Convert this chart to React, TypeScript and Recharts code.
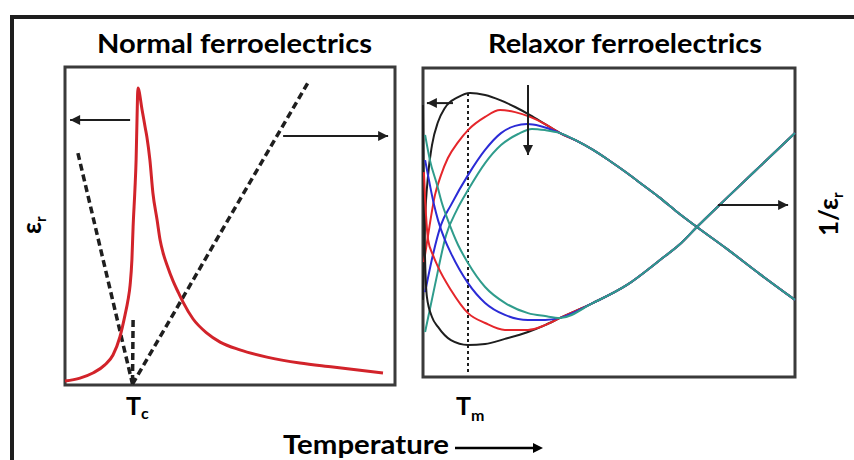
import React from "react";
import { LineChart, Line, XAxis, YAxis, ReferenceArea } from "recharts";

// ---- Normal ferroelectric panel (arbitrary units: t = temperature, v = value)
const normalEps = [
  { t: 0, v: 1.3 }, { t: 5, v: 2.3 }, { t: 9.3, v: 4 }, { t: 13.3, v: 6.7 },
  { t: 16, v: 10 }, { t: 18.3, v: 16 }, { t: 20, v: 23.3 }, { t: 21, v: 28.3 },
  { t: 21.7, v: 33.3 }, { t: 22.3, v: 41.7 }, { t: 22.7, v: 52.7 }, { t: 23.3, v: 65 },
  { t: 23.7, v: 75 }, { t: 24, v: 88.3 }, { t: 24.3, v: 99 }, { t: 25.7, v: 91.7 },
  { t: 26.7, v: 86 }, { t: 27.3, v: 82.7 }, { t: 28.3, v: 75 }, { t: 29.3, v: 64 },
  { t: 30.7, v: 55 }, { t: 31.7, v: 48.3 }, { t: 32.7, v: 44 }, { t: 34, v: 40 },
  { t: 36, v: 34.7 }, { t: 37.7, v: 31 }, { t: 39.3, v: 27.7 }, { t: 42.7, v: 22 },
  { t: 47.3, v: 17.3 }, { t: 51.7, v: 14.3 }, { t: 58.3, v: 11.7 }, { t: 67.3, v: 9.3 },
  { t: 78.3, v: 7.3 }, { t: 89.3, v: 6 }, { t: 106, v: 4 },
];
const invBelowTc = [{ t: 4.3, v: 77.3 }, { t: 22.5, v: 0.3 }];
const invAboveTc = [{ t: 22.5, v: 0.3 }, { t: 81.3, v: 101.3 }];
const tcSpike = [{ t: 22.7, v: 21.7 }, { t: 22.5, v: 0.3 }];
const normalArrowLeft = [{ t: 21.7, v: 88.3 }, { t: 1.7, v: 88.3, head: "left" }];
const normalArrowRight = [{ t: 72.7, v: 83 }, { t: 107.7, v: 83, head: "right" }];

// ---- Relaxor panel
const epsTail = [
  { t: 45.7, v: 81.3 }, { t: 51.3, v: 78.7 }, { t: 56.7, v: 75.7 }, { t: 62.3, v: 72 },
  { t: 68, v: 68 }, { t: 73.3, v: 64 }, { t: 79, v: 59.7 }, { t: 84.7, v: 55 },
  { t: 91.3, v: 50 }, { t: 101.3, v: 42.7 }, { t: 112.3, v: 34.3 }, { t: 124, v: 25.7 },
];
const invTail = [
  { t: 45.7, v: 19.7 }, { t: 56.7, v: 24.7 }, { t: 68, v: 30.7 }, { t: 79, v: 39 },
  { t: 85.7, v: 44.3 }, { t: 91.3, v: 50 }, { t: 101.3, v: 59.7 }, { t: 112.3, v: 70.2 },
  { t: 124, v: 81.3 },
];
const blackEps = [
  { t: 0, v: 25.7 }, { t: 0.7, v: 52.3 }, { t: 1.7, v: 67.3 }, { t: 3, v: 77.3 },
  { t: 5, v: 85 }, { t: 7.3, v: 89.7 }, { t: 11.7, v: 93.3 }, { t: 15.7, v: 94.7 },
  { t: 20.7, v: 94 }, { t: 25.7, v: 92.3 }, { t: 30.7, v: 90 }, { t: 35.7, v: 87.3 },
  { t: 40.7, v: 84.3 },
];
const redEps = [
  { t: 0.3, v: 38.3 }, { t: 1.7, v: 47.3 }, { t: 4, v: 60.7 }, { t: 6, v: 67.3 },
  { t: 8.3, v: 73 }, { t: 11.7, v: 78.3 }, { t: 15, v: 82.3 }, { t: 20.7, v: 86.7 },
  { t: 25.7, v: 89 }, { t: 30.7, v: 88.3 }, { t: 35.7, v: 86.7 }, { t: 40.7, v: 84.3 },
];
const blueEps = [
  { t: 0.7, v: 28.3 }, { t: 3.3, v: 40.7 }, { t: 6, v: 50.7 }, { t: 9.3, v: 57.3 },
  { t: 15, v: 67.3 }, { t: 20.7, v: 75.7 }, { t: 26, v: 81.3 }, { t: 30.7, v: 83.7 },
  { t: 34.7, v: 84.3 }, { t: 39, v: 83.7 },
];
const tealEps = [
  { t: 0.7, v: 15 }, { t: 4, v: 30.7 }, { t: 7.7, v: 47.3 }, { t: 11.3, v: 55.7 },
  { t: 15, v: 62.3 }, { t: 20.7, v: 71.3 }, { t: 26, v: 77.3 }, { t: 31.7, v: 81 },
  { t: 36.3, v: 82.7 }, { t: 40.7, v: 82.3 },
];
const blackInv = [
  { t: 0, v: 90.7 }, { t: 0.3, v: 59 }, { t: 0.7, v: 39 }, { t: 1.3, v: 26.7 },
  { t: 3, v: 20 }, { t: 5, v: 16.7 }, { t: 9.3, v: 12.3 }, { t: 15, v: 10.7 },
  { t: 20.7, v: 11 }, { t: 27.3, v: 12.7 }, { t: 35, v: 15 }, { t: 40.7, v: 17.3 },
];
const redInv = [
  { t: 0.3, v: 68.3 }, { t: 1, v: 54 }, { t: 1.7, v: 45.7 }, { t: 3.3, v: 40.7 },
  { t: 5, v: 36.7 }, { t: 9.3, v: 29 }, { t: 15, v: 21.3 }, { t: 20.7, v: 18 },
  { t: 27.3, v: 15.7 }, { t: 35, v: 15.7 }, { t: 40.7, v: 17.3 },
];
const blueInv = [
  { t: 0.7, v: 72.3 }, { t: 2.3, v: 64 }, { t: 3.7, v: 57.3 }, { t: 5, v: 52.3 },
  { t: 7.3, v: 45.7 }, { t: 9.3, v: 41.3 }, { t: 15, v: 31.3 }, { t: 20.7, v: 24.7 },
  { t: 27.3, v: 20.7 }, { t: 35, v: 19 }, { t: 40.7, v: 19 },
];
const tealInv = [
  { t: 0.7, v: 80.7 }, { t: 2.3, v: 72.3 }, { t: 4.7, v: 64 }, { t: 6.3, v: 58 },
  { t: 8.3, v: 52.3 }, { t: 11.7, v: 44 }, { t: 15, v: 38 }, { t: 20.7, v: 30 },
  { t: 27.3, v: 24.7 }, { t: 35, v: 21.3 }, { t: 40.7, v: 20.3 },
];
const tmLine = [{ t: 15, v: 94.7 }, { t: 15, v: 1.7 }];
const relaxorArrowLeft = [{ t: 10, v: 91.3 }, { t: 1.3, v: 91.3, head: "left" }];
const relaxorArrowDown = [{ t: 35, v: 97.3 }, { t: 35, v: 74, head: "down" }];
const relaxorArrowRight = [{ t: 98.3, v: 57.3 }, { t: 121.7, v: 57.3, head: "right" }];

const relaxorSeries = [
  { name: "black", color: "#1e1e1e", eps: blackEps, inv: blackInv },
  { name: "red", color: "#e5262b", eps: redEps, inv: redInv },
  { name: "blue", color: "#2b2bd6", eps: blueEps, inv: blueInv },
  { name: "teal", color: "#2f9c8c", eps: tealEps, inv: tealInv },
];

const FONT = "Lato, 'Open Sans', sans-serif";
const M = 6;

const ArrowHead = (props: any) => {
  const { cx, cy, payload, index } = props;
  if (!payload || !payload.head || cx == null) return <g key={`h-${index}`} />;
  const l = 10;
  const s = 5;
  let pts = "";
  if (payload.head === "right") pts = `${cx},${cy} ${cx - l},${cy - s} ${cx - l},${cy + s}`;
  if (payload.head === "left") pts = `${cx},${cy} ${cx + l},${cy - s} ${cx + l},${cy + s}`;
  if (payload.head === "down") pts = `${cx},${cy} ${cx - s},${cy - l} ${cx + s},${cy - l}`;
  return <polygon key={`h-${index}`} points={pts} fill="#1e1e1e" />;
};

const arrowLine = (id: string, data: any[]) => (
  <Line
    key={id}
    data={data}
    dataKey="v"
    type="linear"
    stroke="#1e1e1e"
    strokeWidth={2}
    dot={ArrowHead}
    activeDot={false}
    isAnimationActive={false}
  />
);

export default function App() {
  return (
    <div
      style={{
        position: "absolute",
        left: 0,
        top: 0,
        width: 854,
        height: 460,
        background: "#fff",
        overflow: "hidden",
        fontFamily: FONT,
      }}
    >
      <svg width={854} height={460} style={{ position: "absolute", left: 0, top: 0 }}>
        <line x1={12} y1={17} x2={854} y2={17} stroke="#1e1e1e" strokeWidth={4} />
        <line x1={12} y1={15} x2={12} y2={460} stroke="#1e1e1e" strokeWidth={4} />
        <g fontFamily={FONT} fontWeight={700} fill="#000">
          <text x={97} y={53} fontSize={26} textLength={275} lengthAdjust="spacingAndGlyphs">
            Normal ferroelectrics
          </text>
          <text x={488} y={53} fontSize={26} textLength={274} lengthAdjust="spacingAndGlyphs">
            Relaxor ferroelectrics
          </text>
          <text transform="translate(41,234) rotate(-90)" fontSize={26}>
            ε<tspan fontSize={15} dy={5}>r</tspan>
          </text>
          <text transform="translate(838,236) rotate(-90)" fontSize={26}>
            1/ε<tspan fontSize={15} dy={5}>r</tspan>
          </text>
          <text x={126} y={415} fontSize={25}>
            T<tspan fontSize={16} dy={4}>c</tspan>
          </text>
          <text x={456} y={415} fontSize={25}>
            T<tspan fontSize={16} dy={6}>m</tspan>
          </text>
          <text x={283} y={454} fontSize={26} textLength={166} lengthAdjust="spacingAndGlyphs">
            Temperature
          </text>
        </g>
        <line x1={455} y1={448} x2={534} y2={448} stroke="#000" strokeWidth={2.5} />
        <polygon points="543,448 533,443 533,453" fill="#000" />
      </svg>

      <div style={{ position: "absolute", left: 65 - M, top: 67 - M }}>
        <LineChart width={330 + 2 * M} height={318 + 2 * M} margin={{ top: M, right: M, bottom: M, left: M }}>
          <XAxis type="number" dataKey="t" domain={[0, 110]} hide allowDuplicatedCategory={false} />
          <YAxis type="number" domain={[0, 106]} hide />
          <ReferenceArea x1={0} x2={110} y1={0} y2={106} fill="none" stroke="#3a3a3a" strokeWidth={3} />
          <Line data={invBelowTc} dataKey="v" type="linear" stroke="#1e1e1e" strokeWidth={3.5} strokeDasharray="7 4" dot={false} activeDot={false} isAnimationActive={false} />
          <Line data={invAboveTc} dataKey="v" type="linear" stroke="#1e1e1e" strokeWidth={3.5} strokeDasharray="7 4" dot={false} activeDot={false} isAnimationActive={false} />
          <Line data={tcSpike} dataKey="v" type="linear" stroke="#1e1e1e" strokeWidth={3.5} strokeDasharray="7 4" dot={false} activeDot={false} isAnimationActive={false} />
          <Line data={normalEps} dataKey="v" type="monotone" stroke="#d2232a" strokeWidth={3} dot={false} activeDot={false} isAnimationActive={false} />
          {arrowLine("nl", normalArrowLeft)}
          {arrowLine("nr", normalArrowRight)}
        </LineChart>
      </div>

      <div style={{ position: "absolute", left: 423 - M, top: 68 - M }}>
        <LineChart width={372 + 2 * M} height={309 + 2 * M} margin={{ top: M, right: M, bottom: M, left: M }}>
          <XAxis type="number" dataKey="t" domain={[0, 124]} hide allowDuplicatedCategory={false} />
          <YAxis type="number" domain={[0, 103]} hide />
          <ReferenceArea x1={0} x2={124} y1={0} y2={103} fill="none" stroke="#3a3a3a" strokeWidth={3} />
          <Line data={tmLine} dataKey="v" type="linear" stroke="#1e1e1e" strokeWidth={2} strokeDasharray="3 3" dot={false} activeDot={false} isAnimationActive={false} />
          {relaxorSeries.map((s) => (
            <Line key={`e-${s.name}`} data={[...s.eps, ...epsTail]} dataKey="v" type="monotone" stroke={s.color} strokeWidth={2} dot={false} activeDot={false} isAnimationActive={false} />
          ))}
          {relaxorSeries.map((s) => (
            <Line key={`i-${s.name}`} data={[...s.inv, ...invTail]} dataKey="v" type="monotone" stroke={s.color} strokeWidth={2} dot={false} activeDot={false} isAnimationActive={false} />
          ))}
          {arrowLine("rl", relaxorArrowLeft)}
          {arrowLine("rd", relaxorArrowDown)}
          {arrowLine("rr", relaxorArrowRight)}
        </LineChart>
      </div>
    </div>
  );
}
